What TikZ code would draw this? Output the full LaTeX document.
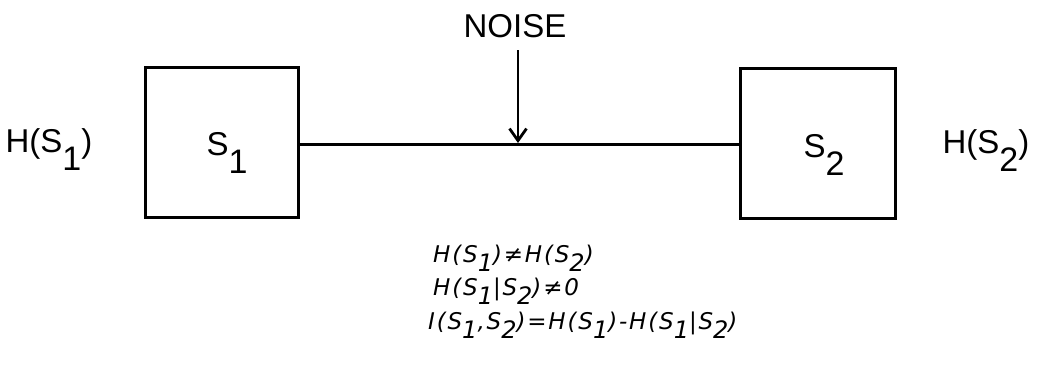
\documentclass[tikz,border=0pt]{standalone}
\usepackage{fontspec}
\setmainfont{Liberation Sans}
\newfontfamily\eqfont[LetterSpace=8]{DejaVu Sans}
\usetikzlibrary{arrows.meta}
\newcommand\dn[1]{\raisebox{-0.55em}{\fontsize{34}{38}\selectfont #1}}
\newcommand\edn[1]{\raisebox{-0.42em}{\fontsize{24}{26}\selectfont #1}}
\tikzset{
  sysbox/.style={draw, line width=3pt, minimum width=153pt, minimum height=150pt, inner sep=0pt},
  lab/.style={font=\fontsize{33}{38}\selectfont, inner sep=0pt, anchor=base},
  eq/.style={font=\eqfont\itshape\fontsize{23}{24}\selectfont, inner sep=0pt, anchor=base west},
  wire/.style={line width=3pt},
  noisearrow/.style={line width=2.8pt, -{Straight Barb[length=12pt,width=17pt,line width=2.8pt]}}
}
\begin{document}
\begin{tikzpicture}[x=1pt,y=-1pt]
\useasboundingbox (0,0) rectangle (1037,376);
% boxes
\node[sysbox] (s1) at (221.5,142) {};
\node[sysbox, minimum width=155pt] (s2) at (817.5,143) {};
% box labels
\node[lab] (s1t) at (227,155) {S\dn{1}};
\node[lab] (s2t) at (824,157) {S\dn{2}};
% entropies
\node[lab] (h1) at (49,152) {H(S\dn{1})};
\node[lab] (h2) at (986,153) {H(S\dn{2})};
% channel
\draw[wire] (s1.east |- 0,144) coordinate (w1) -- (s2.west |- 0,144) coordinate (w2);
% noise
\node[lab] (noise) at (515,37) {NOISE};
\coordinate (ntop) at (518,50);
\coordinate (hit) at (518,143);
\draw[noisearrow] (ntop) -- (hit);
% equations
\node[eq] (eq1) at (433,262) {H(S\edn{1})≠H(S\edn{2})};
\node[eq] (eq2) at (433,295) {H(S\edn{1}|S\edn{2})≠0};
\node[eq] (eq3) at (428,329) {I(S\edn{1},S\edn{2})=H(S\edn{1})-H(S\edn{1}|S\edn{2})};
\end{tikzpicture}
\end{document}
